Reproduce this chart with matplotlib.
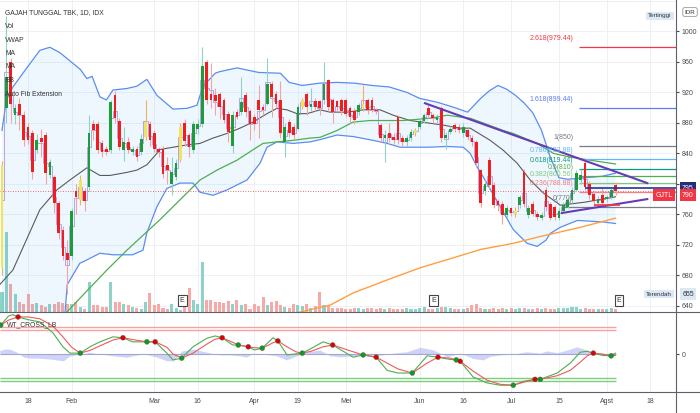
import numpy as np
import matplotlib.pyplot as plt
from matplotlib.lines import Line2D

plt.rcParams['font.family'] = ['Liberation Sans', 'DejaVu Sans']

# ---------------- data ----------------
opens = [690, 900, 960, 890, 905, 890, 875, 866, 845, 860, 864, 811, 809, 775, 740, 709, 705, 790, 779, 790,
         796, 879, 879, 853, 846, 844, 916, 883, 844, 855, 842, 846, 842, 862, 879, 866, 846, 846, 825, 800,
         809, 831, 880, 864, 844, 872, 879, 960, 918, 916, 918, 910, 892, 849, 894, 894, 916, 896, 888, 910,
         901, 905, 931, 918, 910, 855, 881, 875, 872, 901, 918, 901, 908, 908, 910, 936, 910, 908, 910, 910,
         899, 896, 894, 899, 910, 910, 897, 877, 860, 866, 862, 888, 860, 855, 860, 866, 875, 883, 899, 890,
         884, 899, 860, 868, 877, 875, 866, 870, 860, 855, 818, 790, 831, 799, 778, 774, 759, 768, 760, 772,
         816, 759, 774, 760, 755, 792, 774, 770, 755, 765, 770, 779, 792, 805, 827, 800, 787, 775, 785, 780,
         783, 798]
closes = [825, 940, 905, 900, 890, 857, 857, 816, 857, 855, 814, 829, 775, 735, 705, 700, 765, 783, 805, 777,
          866, 870, 844, 842, 842, 907, 886, 848, 855, 844, 846, 835, 859, 881, 857, 846, 842, 813, 818, 816,
          827, 875, 856, 848, 879, 878, 955, 910, 910, 908, 901, 884, 868, 890, 888, 907, 894, 879, 879, 897,
          897, 931, 914, 905, 866, 875, 866, 864, 901, 910, 901, 905, 901, 899, 931, 901, 894, 901, 895, 892,
          888, 884, 903, 905, 897, 897, 895, 860, 864, 860, 857, 857, 855, 860, 868, 870, 883, 890, 890, 886,
          888, 860, 864, 872, 872, 870, 875, 862, 855, 827, 775, 800, 799, 772, 772, 759, 768, 762, 765, 783,
          774, 768, 761, 757, 759, 770, 755, 756, 764, 772, 779, 792, 814, 812, 796, 785, 777, 780, 775, 783,
          792, 790]
highs = [830, 1020, 965, 905, 912, 895, 880, 870, 865, 872, 868, 833, 812, 778, 745, 726, 768, 800, 812, 795,
         890, 884, 882, 858, 850, 910, 922, 886, 875, 862, 850, 850, 865, 910, 882, 870, 848, 850, 835, 835,
         832, 880, 885, 866, 882, 885, 979, 962, 958, 925, 920, 912, 895, 895, 898, 940, 920, 898, 892, 930,
         905, 965, 935, 922, 935, 880, 885, 878, 905, 912, 920, 925, 912, 910, 960, 938, 912, 910, 912, 912,
         902, 900, 906, 930, 912, 914, 900, 880, 870, 880, 866, 890, 864, 864, 872, 873, 886, 893, 905, 893,
         892, 902, 868, 876, 880, 878, 880, 873, 864, 857, 820, 805, 835, 802, 780, 778, 772, 770, 770, 786,
         820, 772, 778, 764, 763, 796, 776, 772, 768, 776, 783, 796, 818, 820, 832, 804, 790, 784, 794, 786,
         795, 802]
lows = [680, 880, 880, 878, 870, 850, 852, 806, 840, 835, 800, 808, 762, 728, 700, 655, 700, 760, 772, 765,
        790, 858, 840, 835, 838, 840, 880, 845, 830, 840, 838, 830, 838, 858, 850, 842, 835, 808, 800, 786,
        805, 828, 850, 835, 840, 865, 875, 905, 900, 890, 885, 880, 855, 840, 885, 890, 888, 858, 870, 860,
        890, 903, 888, 900, 860, 835, 862, 858, 870, 898, 890, 895, 895, 890, 905, 895, 880, 895, 890, 888,
        880, 878, 890, 896, 892, 894, 892, 855, 829, 855, 852, 852, 850, 850, 856, 863, 872, 880, 886, 880,
        880, 855, 846, 865, 868, 866, 862, 858, 850, 822, 770, 785, 795, 768, 765, 748, 756, 758, 757, 768,
        770, 755, 758, 752, 752, 765, 752, 752, 752, 762, 768, 775, 790, 800, 792, 780, 770, 772, 772, 776,
        780, 786]
volume = [10, 40, 14, 9, 5, 4, 9, 4, 4.5, 3.5, 2.5, 4, 4, 5, 4.5, 4, 4, 5, 2.5, 1.5,
          15, 3.5, 3.5, 2.5, 2.5, 15, 5, 5, 4, 3.5, 2.5, 2, 1.5, 5, 9.5, 3.5, 4, 2, 1.5, 4,
          2, 1, 2.5, 12, 6, 4, 25, 6, 6, 5, 5, 4.5, 5.5, 4, 6, 3.5, 4, 1.5, 4, 3,
          7.5, 3.5, 5, 5.5, 3.5, 2.5, 2, 4, 3.5, 3, 4, 2, 3, 10, 3.5, 3.5, 2, 2, 2, 1.5,
          1.5, 2, 2, 1.5, 2, 2, 1.5, 2, 1.5, 2, 1.5, 1.5, 1.5, 2, 1.5, 1.5, 2, 2.5, 1.5, 1.5,
          2, 2.5, 2.5, 2, 1.5, 1.5, 1.5, 2, 3.5, 4, 2, 1.5, 1.5, 2, 1.5, 2, 1.5, 2, 1.5, 2,
          2, 1.5, 1.5, 2, 1.5, 2, 1.5, 1.5, 2, 2, 2, 2.5, 2.5, 1.5, 2, 1.5, 1.5, 1.5, 1.5, 1.5,
          2, 1.5]
yellow_bars = [0, 18, 33, 41, 69, 83, 95, 118]

bb_up_idx = [0, 1, 2.5, 5.7, 8.7, 11, 13.3, 18, 19.5, 20.7, 22.5, 24, 25.5, 28.7, 31, 33.3, 35.6, 39.3,
             42.5, 44.8, 46.2, 49, 50, 54, 59, 64, 66, 69, 73, 77, 81, 85, 89, 93, 96, 100, 104, 107,
             108, 110, 112, 114, 116, 118, 120, 122, 124, 126, 128, 130, 134, 138, 141]
bb_up = [870, 910, 927, 952, 975, 979, 972, 950, 938, 941, 914, 910, 923, 925, 928, 937, 916, 898,
         899, 903, 928, 945, 947, 952, 946, 945, 933, 929, 932, 933, 932, 929, 927, 920, 912, 907, 900, 894,
         900, 912, 922, 929, 924, 916, 906, 893, 870, 835, 808, 806, 808, 810, 814]
bb_lo_idx = [0, 5, 10, 13, 14.5, 15, 17.9, 18.7, 22.5, 25.5, 30, 32.4, 33.3, 35.6, 37.9, 40.9, 43.9, 45.5,
             48.5, 51.7, 56.3, 59.3, 60.9, 63.2, 66.9, 70.8, 73.1, 77, 80.7, 85.3, 88.5, 91.5, 94.5, 97.7,
             102.3, 106, 107.6, 109.2, 110.6, 114.5, 117.5, 120.7, 123, 125, 126, 128.3, 132.2, 138.2, 141]
bb_lo = [600, 590, 600, 615, 632, 668, 696, 698, 709, 707, 707, 713, 736, 770, 794, 801, 801, 789,
         785, 792, 805, 827, 848, 855, 853, 855, 858, 864, 862, 857, 853, 848, 848, 848,
         849, 848, 840, 822, 809, 770, 740, 722, 718, 726, 735, 743, 752, 750, 748]

ma_gray_idx = [-0.5, 2.5, 8.7, 12.6, 15.6, 19.5, 22.5, 24.8, 28.7, 31, 33.3, 35.6, 36.3, 39.3, 42.5, 45.5,
               48.5, 51.7, 54.7, 57.7, 60.9, 63.2, 65.5, 67.8, 70.1, 73.1, 75.4, 79.3, 83, 86.9, 89.9, 93.8,
               97.7, 101.4, 105.3, 107.6, 112.2, 115.2, 118.4, 121.4, 124.4, 127.6, 128.3, 134, 141]
ma_gray = [668, 687, 766, 792, 805, 821, 811, 811, 815, 818, 825, 840, 845, 848, 851, 853,
           860, 866, 873, 881, 892, 899, 897, 892, 892, 897, 894, 894, 897, 897, 890, 883,
           880, 877, 873, 873, 857, 844, 827, 805, 788, 775, 772, 776, 783]
ma_green_idx = [14.9, 24.1, 28.7, 36.3, 40.9, 45.5, 49.4, 54, 58.6, 60, 63.2, 66.9, 70.8, 73.1, 77, 80.7,
                84.6, 92.2, 98.4, 102.3, 106, 107.6, 110, 115.2, 117.5, 123, 126.7, 130.6, 141]
ma_green = [632, 687, 713, 753, 779, 805, 818, 831, 848, 853, 855, 857, 860, 861, 870, 881,
            883, 883, 886, 890, 887, 886, 881, 870, 866, 853, 840, 835, 826]
ma_orange_idx = [60, 68.5, 75.4, 80.7, 88.5, 96.1, 103.7, 110, 117.5, 123, 132.9, 141]
ma_orange = [615, 632, 641, 657, 674, 690, 703, 714, 722, 730, 743, 755]

fib_ratio = ['2.618', '1.618', '1', '0.786', '0.618', '0.5', '0.382', '0.236', '0']
fib_price = [979.44, 899.44, 850, 832.88, 819.44, 810, 800.56, 788.88, 770]
fib_text = ['979.44', '899.44', '850', '832.88', '819.44', '810', '800.56', '788.88', '770']
fib_color = ['#f23645', '#5b7cf5', '#787b86', '#64b5f6', '#089981', '#4caf50', '#81c784', '#f77c80', '#787b86']

tri_up_idx, tri_up_px = [97.2, 148.3], [905.7, 801]
tri_lo_idx, tri_lo_px = [128.7, 148.3], [761.8, 780]

earn_idx = [41.4, 99.2, 141.8]

wt1_idx = [-0.5, -0.3, 1.5, 2.5, 3.7, 6, 8.7, 11.7, 14, 15.6, 18, 20.2, 22.5, 25.5, 27.8, 30, 33.3, 35.2,
           37.9, 39.3, 41.3, 43.9, 47.1, 49, 50.6, 53, 54.3, 56.6, 58, 59.8, 62.3, 63.4, 65.5, 69, 71, 73.8,
           76, 80.7, 83, 86, 88.5, 91, 94.3, 97.7, 100.2, 103, 104.4, 105.3, 108.3, 111.5, 114.5, 117.5,
           120, 122.5, 123.7, 127.6, 130.6, 132.9, 134.5, 135.9, 138, 140, 141]
wt1 = [62, 64, 84, 87, 82, 76, 71, 47, 16, 2, 2, 16, 27, 38, 36, 27, 27, 27,
       2, -13, -9, 16, 35, 40, 36, 20, 20, 16, 9, 13, 36, 29, -2, 2, 12, 27,
       20, -7, -2, -7, -36, -42, -42, -4, -7, -12, -13, -16, -51, -64, -69, -69,
       -60, -56, -56, -42, -20, 4, 6, 2, -3, -4, 2]
wt2_idx = [-0.5, -0.3, 1.5, 3.7, 6, 8.7, 11.7, 14, 16, 18, 20.2, 22.5, 25.5, 27.8, 30, 33.3, 35.2, 37.9,
           39.3, 41.3, 43.9, 47.1, 49, 50.6, 53, 54.3, 56.6, 58, 59.8, 62.3, 63.4, 65.5, 67.5, 69, 71, 73.8,
           76, 80.7, 83, 86, 88.5, 91, 94.3, 97.7, 100.2, 103, 104.4, 105.3, 108.3, 111.5, 114.5, 117.5,
           120, 122.5, 123.7, 127.6, 130.6, 132.9, 134.5, 135.9, 138, 140, 141]
wt2 = [60, 64, 75, 82, 82, 78, 62, 38, 15, 2, 8, 18, 31, 36, 32, 27, 27, 15,
       0, -9, 2, 22, 33, 36, 26, 20, 16, 14, 13, 25, 29, 16, 5, 2, 6, 16,
       20, 5, -2, -7, -20, -33, -42, -20, -7, -9, -13, -16, -38, -58, -67, -69,
       -62, -56, -56, -48, -36, -18, -4, 2, 0, -4, -3]
cross_idx = [-0.3, 3.7, 18, 27.8, 33.3, 35.2, 41.3, 50.6, 54.3, 56.6, 59.8, 63.4, 69, 76, 83, 86,
             94.3, 100.2, 104.4, 105.3, 117.5, 122.5, 123.7, 135.9, 140]
cross_val = [64, 82, 2, 36, 27, 27, -9, 36, 20, 16, 13, 29, 2, 20, -2, -7,
             -42, -7, -13, -16, -69, -56, -56, 2, -4]
cross_up = [1, 0, 1, 0, 1, 0, 1, 0, 1, 0, 1, 0, 1, 0, 1, 0, 1, 0, 1, 0, 1, 0, 1, 0, 1]
diff_idx = [-0.5, 0.7, 1.8, 3.4, 5, 6.4, 8, 11, 14.1, 15.6, 18, 20.2, 22.5, 25.6, 28.7, 32.5, 35.6, 37.9,
            39.4, 41.3, 44, 47.1, 50.1, 52.4, 54.7, 56.2, 57.8, 60.1, 63.1, 65.4, 67.7, 70, 73.1, 75.4,
            77.7, 80.7, 83, 86.1, 90, 93, 96.1, 99.2, 102.3, 105.3, 108.3, 110.6, 112.2, 114.5, 117.5,
            120.6, 123.7, 125.2, 127.6, 129.9, 132.1, 134.4, 136, 138.3, 140.6, 141]
diff_val = [8, 11, 11, 4, -7, -9, -9, -11, -15, -4, 0, 4, 0, -4, -7, 1, -7, -15,
            -15, 7, 11, 4, -2, -2, -4, -7, 2, 0, -4, -13, -4, 5, 9, -4,
            -6, -4, 0, -4, 2, 5, 15, 9, -6, 2, -10, -13, -5, -2, 0,
            5, 2, 7, 3, 9, 16, 9, 3, 0, 3, 2]

tick_idx = [6, 16, 35, 45, 58, 68, 79, 96, 106, 117, 128, 139, 149]
tick_lab = ['18', 'Feb', 'Mar', '16', 'Apr', '19', 'Mei', 'Jun', '16', 'Jul', '15', 'Agst', '18']
price_ticks = [640, 680, 720, 760, 800, 840, 880, 920, 960, 1000]

# ---------------- figure ----------------
W, H = 700, 413
Y0, Y1 = 632, 1041
fig = plt.figure(figsize=(7, 4.13), dpi=100)


def rect(x0, y0, x1, y1):
    return [x0 / W, 1 - y1 / H, (x1 - x0) / W, (y1 - y0) / H]


def ftext(x, y, s, **kw):
    fig.text(x / W, 1 - y / H, s, **kw)


ax = fig.add_axes(rect(0, 0, 676, 312))
ax_wt = fig.add_axes(rect(0, 312, 676, 392), sharex=ax)

idx = np.arange(len(closes))
o, c, h, l = map(np.array, (opens, closes, highs, lows))
up = c >= o

# volume at the bottom of the price pane (2 px per unit)
vol_scale = 2 * (Y1 - Y0) / 312
vcol = np.where(up, '#8dd3c7', '#f6aaa7')
ax.bar(idx, np.array(volume) * vol_scale, bottom=Y0, width=0.7, color=vcol, zorder=1)

# bollinger bands
ax.fill(np.r_[bb_up_idx, bb_lo_idx[::-1]], np.r_[bb_up, bb_lo[::-1]], color='#2196f3', alpha=0.07, lw=0, zorder=1.2)
ax.plot(bb_up_idx, bb_up, color='#5b8def', lw=0.9, zorder=2)
ax.plot(bb_lo_idx, bb_lo, color='#5b8def', lw=0.9, zorder=2)

# moving averages
ax.plot(ma_gray_idx, ma_gray, color='#5a5a5a', lw=0.8, zorder=2)
ax.plot(ma_green_idx, ma_green, color='#4caf50', lw=0.9, zorder=2)
ax.plot(ma_orange_idx, ma_orange, color='#ff9f40', lw=1.0, zorder=2)

# vwap (daily typical price)
hlc3 = (h + l + c) / 3
ax.plot(idx, hlc3, drawstyle='steps-mid', color='#9c7fe0', lw=0.6, alpha=0.8, zorder=2.6)

# candles
body_col = np.where(up, '#1b9d3c', '#f01e1e').astype(object)
wick_col = np.where(up, '#8fd3c4', '#f4a3a3').astype(object)
for i in yellow_bars:
    body_col[i] = '#f3e35a'
    wick_col[i] = '#f0b060'
ax.vlines(idx, l, h, colors=list(wick_col), lw=0.8, zorder=2.8)
body = np.maximum(np.abs(c - o), 1.5)
ax.bar(idx, body, bottom=np.minimum(o, c), width=0.62, color=list(body_col), zorder=3)

# price line and drawings
ax.axhline(790, color='#f23645', ls=(0, (1, 2)), lw=0.6, zorder=2.5)
ax.plot(tri_up_idx, tri_up_px, color='#673ab7', lw=1.5, zorder=3.2)
ax.plot(tri_lo_idx, tri_lo_px, color='#673ab7', lw=1.5, zorder=3.2)
ax.hlines(795, 134, 156, color='#283593', lw=1.2, zorder=3.2)
ax.hlines(772, 136, 142, color='#f23645', lw=1.2, zorder=3.2)

for r, p, t, col in zip(fib_ratio, fib_price, fib_text, fib_color):
    x0 = 128.7 if r == '0' else 132.5
    ax.hlines(p, x0, 156, color=col, lw=0.9, zorder=2.4)
    ax.annotate(f'{r}({t})', xy=(131.3, p), xytext=(0, 5), textcoords='offset pixels',
                ha='right', va='bottom', fontsize=5, color=col, zorder=4)

for e in earn_idx:
    ax.text(e, 647, 'E', ha='center', va='center', fontsize=5, color='#333',
            bbox=dict(boxstyle='square,pad=0.3', fc='white', ec='#444', lw=0.8), zorder=5)

ax.set_xlim(-0.46, 154.9)
ax.set_ylim(Y0, Y1)
ax.set_yticks(price_ticks)
ax.set_yticklabels(['' if v == 800 else str(v) for v in price_ticks])
ax.yaxis.tick_right()
ax.tick_params(axis='y', labelsize=5, length=2, pad=2, colors='#4a4a4a')
ax.tick_params(axis='x', labelbottom=False, length=0)
ax.set_xticks(tick_idx)
ax.grid(True, color='#edf1f6', lw=0.7, zorder=0)
ax.axhline(1040, color='#edf1f6', lw=0.7, zorder=0)
ax.set_axisbelow(True)
for s in ax.spines.values():
    s.set_visible(False)

# WT cross pane
ax_wt.fill_between(diff_idx, 0, diff_val, color='#7b83eb', alpha=0.35, lw=0)
for v, col in [(60, '#f7a1a1'), (53, '#f7a1a1'), (-53, '#7fcc7f'), (-60, '#7fcc7f')]:
    ax_wt.hlines(v, -0.5, 141, color=col, lw=1.0)
ax_wt.hlines(0, -0.5, 141, color='#a2a6d0', lw=0.8)
ax_wt.plot(wt1_idx, wt1, color='#4caf50', lw=0.8)
ax_wt.plot(wt2_idx, wt2, color='#f05a5a', lw=0.8)
dot_col = ['#0a9d1f' if u else '#e00000' for u in cross_up]
ax_wt.scatter(cross_idx, cross_val, s=12, c=dot_col, edgecolors='#555', linewidths=0.3, zorder=5)
ax_wt.set_ylim(-84, 93)
ax_wt.set_yticks([0])
ax_wt.yaxis.tick_right()
ax_wt.tick_params(axis='y', labelsize=5, length=2, pad=2, colors='#4a4a4a')
ax_wt.set_xticks(tick_idx)
ax_wt.set_xticklabels(tick_lab)
ax_wt.tick_params(axis='x', labelsize=5, length=0, pad=4, colors='#4a4a4a')
ax_wt.grid(True, axis='x', color='#edf1f6', lw=0.7)
ax_wt.set_axisbelow(True)
for s in ax_wt.spines.values():
    s.set_visible(False)

# pane separators
line_kw = dict(color='#5d606b', lw=0.8)
fig.add_artist(Line2D([676 / W, 676 / W], [0, 1], **line_kw))
fig.add_artist(Line2D([0, 1], [1 - 312 / H, 1 - 312 / H], **line_kw))
fig.add_artist(Line2D([0, 1], [1 - 392 / H, 1 - 392 / H], **line_kw))

# legend / labels
leg = ['GAJAH TUNGGAL TBK, 1D, IDX', 'Vol', 'VWAP', 'MA', 'MA', 'BB', 'Auto Fib Extension']
for k, s in enumerate(leg):
    ftext(5, 13 + 13.5 * k, s, fontsize=4.9, color='#333', va='center')
ftext(7, 325, 'WT_CROSS_LB', fontsize=4.9, color='#333', va='center')

ftext(660, 16, 'Tertinggi', fontsize=4.5, color='#333', ha='center', va='center',
      bbox=dict(boxstyle='square,pad=0.3', fc='#dbe8f5', ec='none'))
ftext(690, 12, 'IDR', fontsize=4.5, color='#333', ha='center', va='center',
      bbox=dict(boxstyle='round,pad=0.3', fc='white', ec='#999', lw=0.6))
ftext(659, 294, 'Terendah', fontsize=4.5, color='#333', ha='center', va='center',
      bbox=dict(boxstyle='square,pad=0.3', fc='#dbe8f5', ec='none'))
ftext(688, 294, '655', fontsize=5, color='#333', ha='center', va='center',
      bbox=dict(boxstyle='square,pad=0.3', fc='#dbe8f5', ec='none'))
ftext(688, 188, '795', fontsize=5, color='white', ha='center', va='center',
      bbox=dict(boxstyle='square,pad=0.35', fc='#262c7a', ec='none'))
ftext(688, 195, '790', fontsize=5, color='white', ha='center', va='center',
      bbox=dict(boxstyle='square,pad=0.35', fc='#f23645', ec='none'))
ftext(664, 195, 'GJTL', fontsize=5, color='white', ha='center', va='center',
      bbox=dict(boxstyle='square,pad=0.35', fc='#f23645', ec='none'))

fig.savefig('out.png', dpi=100)
